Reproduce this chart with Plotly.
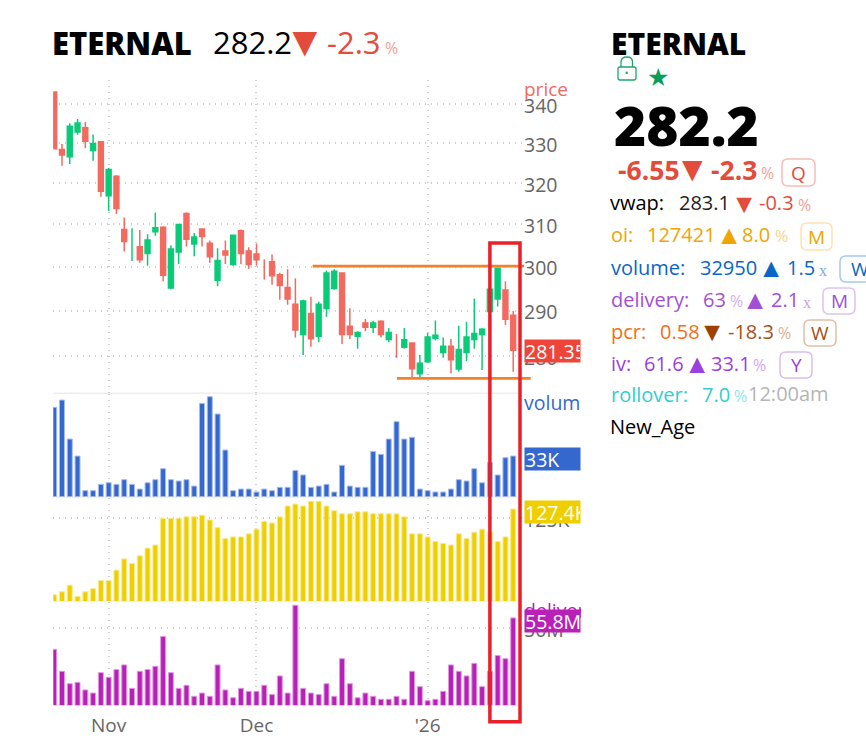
import math
import plotly.graph_objects as go
from plotly.subplots import make_subplots

W, H = 866, 740
FONT = 'Open Sans'

dates = ['2025-10-23', '2025-10-24', '2025-10-27', '2025-10-28', '2025-10-29', '2025-10-30', '2025-10-31',
         '2025-11-03', '2025-11-04', '2025-11-06', '2025-11-07', '2025-11-10', '2025-11-11', '2025-11-12',
         '2025-11-13', '2025-11-14', '2025-11-17', '2025-11-18', '2025-11-19', '2025-11-20', '2025-11-21',
         '2025-11-24', '2025-11-25', '2025-11-26', '2025-11-27', '2025-11-28',
         '2025-12-01', '2025-12-02', '2025-12-03', '2025-12-04', '2025-12-05', '2025-12-08', '2025-12-09',
         '2025-12-10', '2025-12-11', '2025-12-12', '2025-12-15', '2025-12-16', '2025-12-17', '2025-12-18',
         '2025-12-19', '2025-12-22', '2025-12-23', '2025-12-24', '2025-12-26', '2025-12-29', '2025-12-30',
         '2025-12-31', '2026-01-01', '2026-01-02', '2026-01-05', '2026-01-06', '2026-01-07', '2026-01-08',
         '2026-01-09', '2026-01-12', '2026-01-13', '2026-01-14', '2026-01-16', '2026-01-19']

opens = [343.1, 328.25, 326.7, 333, 333.8, 328.25, 330.2, 317, 321.5, 308.6,
         304.6, 304.5, 303.2, 308.3, 309.1, 295.2, 303.5, 312.4, 305.4, 308.7,
         305.3, 297, 303.5, 300.6, 308.3, 303.5, 302.8, 299.5, 301, 298,
         295.1, 291.3, 284.8, 289.2, 284.4, 290.6, 295.1, 298.4, 286.4, 284.4,
         287.1, 286.4, 287.5, 283.7, 282.5, 282, 282.7, 276.3, 278.9, 284,
         280.9, 282, 277.3, 280.9, 283.7, 284.8, 289.9, 292.7, 294.5, 288.8]
highs = [343.1, 329.75, 335.1, 336.2, 335.4, 332.2, 330.2, 323.7, 321.9, 311.6,
         309, 308.6, 307.6, 312.8, 309.4, 305, 309.8, 312.8, 307.9, 308.7,
         306.1, 304.3, 306.1, 307.2, 308.7, 304.5, 305.4, 301.7, 302.8, 298.6,
         299.4, 297.3, 292.4, 293.1, 292, 299.1, 299.4, 298.4, 290.5, 285.4,
         288.1, 287.7, 287.8, 286.1, 284.8, 286.1, 282.7, 280.2, 285, 287.8,
         284, 283.7, 286.6, 287.5, 292.7, 286.1, 294.7, 299.5, 296.6, 289.9]
lows = [328.7, 324.3, 324.7, 332.1, 328.7, 325.5, 316.6, 313.1, 312.4, 303.5,
        301.3, 300.9, 300.2, 307.2, 296.6, 294.8, 300.6, 304.7, 302.4, 304.7,
        300.9, 295.5, 300.6, 300.2, 300.6, 299.5, 300.2, 297, 295.8, 292.4,
        291.3, 284, 280.2, 282, 283, 288.6, 294.7, 282.6, 283.7, 281.6,
        285.4, 285, 284, 283, 279.6, 281.6, 275.3, 275.3, 278.6, 283.4,
        279.6, 276.3, 276.6, 278.9, 281.6, 277, 289.9, 290.9, 286.8, 276.6]
closes = [328.7, 327.1, 334.2, 335, 330.6, 329.75, 318.1, 323.2, 313.9, 306,
          304.8, 301.7, 306.1, 309, 298.1, 304, 309.8, 306.5, 306.8, 307.2,
          302.4, 301.3, 302.8, 307.2, 303.2, 300.6, 301.7, 299.3, 298, 295.8,
          292.7, 285.8, 292, 283.9, 291.3, 298.4, 298.8, 284.8, 284.8, 285,
          286.4, 287.1, 284.8, 285, 282.3, 283.4, 277.4, 278.3, 284, 284.4,
          282, 279.3, 281.3, 284, 284.8, 285.7, 294.7, 299.5, 288.2, 281.35]

volume = [72.4, 78.3, 46.7, 32.9, 4.9, 4.9, 10, 11.3, 10, 13.8,
          10, 6.2, 11.3, 13.8, 22.7, 13.8, 12.7, 13.8, 8.6, 75.6,
          81, 67, 37.8, 4.9, 6.2, 6.2, 3.8, 6.2, 4.9, 7.6,
          7.6, 21.3, 17.6, 7.6, 8.6, 10, 3.8, 25.4, 8.6, 7.6,
          7.6, 36.7, 34.3, 46.7, 60.8, 46.7, 48.1, 6.2, 4.9, 3.8,
          3.8, 6.2, 13.8, 12.7, 22.7, 11.3, 27.8, 17.6, 31.6, 32.95]
oi = [105.2, 106, 107.7, 104.8, 106, 106.8, 108.9, 108.9, 111.6, 114.5,
      113.3, 115.3, 117.3, 118.1, 125, 125, 125, 125.4, 125.4, 125.8,
      124.6, 122.6, 119.8, 120.2, 120.2, 121, 122.2, 124.2, 123.8, 125.4,
      128.2, 128.7, 128.2, 129.4, 129.4, 128.2, 127, 126.2, 126.2, 126.7,
      126.7, 126.2, 126.2, 126.2, 126.2, 125.4, 121, 121, 120.2, 119,
      118.5, 118.1, 121, 119.8, 121.4, 122.2, 121.4, 119, 120.2, 127.42]
delivery = [37.6, 24.9, 17.7, 18.5, 14.1, 12.3, 24.1, 21.4, 25.9, 28.6,
            15, 24.9, 25.9, 27.8, 45, 24.1, 15, 16.8, 10.4, 12.3,
            10.4, 28.6, 14.1, 9.6, 15, 13.3, 13.3, 16.8, 11.4, 22.2,
            12.3, 63.1, 15, 12.3, 11.4, 17.7, 10.4, 32.2, 17.7, 9.6,
            12.3, 10.4, 8.7, 8.7, 10.4, 8.7, 24.9, 16, 7.9, 8.7,
            13.3, 28.6, 24.9, 22.2, 29.5, 16, 24.9, 34, 32.2, 55.8]

month_dates = ['2025-11-03', '2025-12-01', '2026-01-01']
month_labels = ['Nov', 'Dec', "'26"]
price_ticks = [280, 290, 300, 310, 320, 330, 340]
resistance = 300.1
support = 275.2

RED = '#e34b3a'
SALMON = '#f0a096'
SERIF = 'Liberation Serif'
UP = '#0acb78'
DOWN = '#f26a60'


def px(x):
    return x / W


def py(y):
    return 1 - y / H


def domain(top, bottom):
    return [py(bottom), py(top)]


def label(x, y, text, color='#000000', size=20, weight=None, family=FONT, **kw):
    fig.add_annotation(xref='paper', yref='paper', x=px(x), y=py(y), text=text,
                       xanchor='left', yanchor='middle', showarrow=False, borderpad=0,
                       font=dict(family=family, color=color, size=size, weight=weight), **kw)


def tag(yref, value, text, color, shift):
    fig.add_annotation(xref='paper', yref=yref, x=px(524), y=value, text=text, width=55, height=22,
                       align='left', xanchor='left', yanchor='middle', yshift=shift,
                       showarrow=False, borderpad=0, bgcolor=color,
                       font=dict(family=FONT, color='white', size=19.5))


def rounded(x0, y0, x1, y1, r=6):
    return (f'M {px(x0 + r)} {py(y0)} L {px(x1 - r)} {py(y0)} Q {px(x1)} {py(y0)} {px(x1)} {py(y0 + r)} '
            f'L {px(x1)} {py(y1 - r)} Q {px(x1)} {py(y1)} {px(x1 - r)} {py(y1)} '
            f'L {px(x0 + r)} {py(y1)} Q {px(x0)} {py(y1)} {px(x0)} {py(y1 - r)} '
            f'L {px(x0)} {py(y0 + r)} Q {px(x0)} {py(y0)} {px(x0 + r)} {py(y0)} Z')


def badge(x0, y0, x1, y1, text, border, color):
    fig.add_shape(type='path', xref='paper', yref='paper', path=rounded(x0, y0, x1, y1),
                  line=dict(color=border, width=1.5))
    fig.add_annotation(xref='paper', yref='paper', x=px((x0 + x1) / 2), y=py((y0 + y1) / 2), text=text,
                       xanchor='center', yanchor='middle', showarrow=False, borderpad=0,
                       font=dict(family=FONT, color=color, size=19))


fig = make_subplots(rows=4, cols=1, shared_xaxes=True)

# wicks as tickless ohlc, bodies as candles without wicks, days with no real body stay a plain line
fig.add_trace(go.Ohlc(x=dates, open=opens, high=highs, low=lows, close=closes, tickwidth=0,
                      increasing=dict(line=dict(color=UP, width=1.5)),
                      decreasing=dict(line=dict(color=DOWN, width=1.5))), row=1, col=1)
body_top = [max(o, c) if abs(o - c) > 0.3 else None for o, c in zip(opens, closes)]
body_bottom = [min(o, c) if abs(o - c) > 0.3 else None for o, c in zip(opens, closes)]
fig.add_trace(go.Candlestick(x=dates, open=opens, high=body_top, low=body_bottom, close=closes,
                             increasing=dict(line=dict(color=UP, width=2.6), fillcolor=UP),
                             decreasing=dict(line=dict(color=DOWN, width=2.6), fillcolor=DOWN),
                             whiskerwidth=0), row=1, col=1)
fig.add_trace(go.Bar(x=dates, y=volume, marker=dict(color='#3468cf', line=dict(color='#a6bcee', width=1))),
              row=2, col=1)
fig.add_trace(go.Bar(x=dates, y=oi, marker=dict(color='#f0cf00', line=dict(color='#f9ea90', width=1))),
              row=3, col=1)
fig.add_trace(go.Bar(x=dates, y=delivery, marker=dict(color='#b820b8', line=dict(color='#e09ae0', width=1))),
              row=4, col=1)

x_range = [-0.116, 60.13]
x_dom = [px(53.3), px(522)]
for i, name in enumerate(['xaxis', 'xaxis2', 'xaxis3', 'xaxis4']):
    fig.layout[name].update(type='category', categoryorder='array', categoryarray=dates, range=x_range,
                            domain=x_dom, showgrid=True, gridcolor='#cfcfcf', griddash='1px,5px', gridwidth=1.5,
                            tickmode='array', tickvals=month_dates, ticktext=month_labels, showline=False,
                            zeroline=False, ticks='', showticklabels=i == 3, ticklabelstandoff=7,
                            tickfont=dict(family=FONT, size=19, color='#666666'))
fig.layout.xaxis.rangeslider.visible = False

y_common = dict(side='right', showline=False, zeroline=False, ticks='', showgrid=True, gridcolor='#cfcfcf',
                griddash='1px,5px', gridwidth=1.5, tickmode='array',
                tickfont=dict(family=FONT, size=19.5, color='#666666'), ticklabelstandoff=1, ticklabelshift=2)
fig.layout.yaxis.update(type='log', domain=domain(80, 393), range=[2.43476, 2.53965],
                        tickvals=price_ticks, ticktext=[str(t) for t in price_ticks], **y_common)
fig.layout.yaxis2.update(domain=domain(394, 496.7), range=[0, 83.2], tickvals=[], **y_common)
fig.layout.yaxis3.update(domain=domain(497.5, 601), range=[103.6, 130.4], tickvals=[125], ticktext=['125K'], **y_common)
fig.layout.yaxis4.update(domain=domain(602, 705.3), range=[5.2, 65], tickvals=[50], ticktext=['50M'], **y_common)

fig.update_layout(width=W, height=H, margin=dict(l=0, r=0, t=0, b=0), showlegend=False,
                  plot_bgcolor='white', paper_bgcolor='white', bargap=0.36, boxmode='overlay',
                  font=dict(family=FONT), hovermode=False)

# separators under the panels
for y, c in [(393.3, '#eeeeee'), (497, '#f0f0f0'), (601.3, '#f0f0f0')]:
    fig.add_shape(type='line', xref='paper', yref='paper', x0=px(53.3), x1=px(522), y0=py(y), y1=py(y),
                  line=dict(color=c, width=1.5), layer='below')

# levels and the frame round the last bars
fig.add_shape(type='line', xref='paper', yref='y', x0=px(312.7), x1=px(524), y0=resistance, y1=resistance,
              line=dict(color='#f5802a', width=2.6))
fig.add_shape(type='line', xref='paper', yref='y', x0=px(397), x1=px(530.7), y0=support, y1=support,
              line=dict(color='#f5802a', width=2.6))
fig.add_shape(type='rect', xref='paper', yref='paper', x0=px(489.9), x1=px(520), y0=py(243), y1=py(721.7),
              line=dict(color='#e8202a', width=3.5))

# panel names and value tags
label(523, 88.5, 'price', '#f26a60', 19)
label(523, 402, 'volume', '#3468cf', 19.5, width=57, align='left')
label(523, 507, 'oi', '#f0cf00', 19)
label(523, 610, 'delivery', '#b820b8', 19.5, width=57, align='left')
tag('y', math.log10(closes[-1]), '281.35', '#ef4438', -1)
tag('y2', volume[-1], '33K', '#3468cf', -3)
tag('y3', oi[-1], '127.4K', '#f0cf00', -3)
tag('y4', delivery[-1], '55.8M', '#b820b8', -3)

# header over the chart
label(51, 42.5, 'ETERNAL', '#000000', 31, 800)
label(212, 42, '282.2', '#000000', 31)
label(282.6, 39.5, '▼', RED, 42)
label(326, 42, '-2.3', RED, 31)
label(384, 48, '%', SALMON, 16)

# side panel
label(609.5, 43.5, 'ETERNAL', '#000000', 30, 800)
fig.add_shape(type='path', xref='paper', yref='paper', path=rounded(618, 67, 636, 80, 2),
              line=dict(color='#1aa86a', width=1.3))
fig.add_shape(type='path', xref='paper', yref='paper',
              path=f'M {px(621)} {py(67)} L {px(621)} {py(62)} Q {px(621)} {py(57)} {px(627)} {py(57)} '
                   f'Q {px(632.5)} {py(57)} {px(632.5)} {py(62)} L {px(632.5)} {py(67)}',
              line=dict(color='#1aa86a', width=1.3))
fig.add_shape(type='circle', xref='paper', yref='paper', x0=px(625.5), x1=px(628), y0=py(71.5), y1=py(74),
              fillcolor='#1aa86a', line=dict(width=0))
label(646, 76, '★', '#0a9d58', 25)
label(613, 125, '282.2', '#000000', 55, 800)

label(617, 170, '-6.55', RED, 26.5, 700)
label(674.2, 167, '▼', RED, 35)
label(710, 170, '-2.3', RED, 26.5, 700)
label(760, 173, '%', SALMON, 16)
badge(782, 159, 815, 186, 'Q', '#f7bdb5', RED)

label(609, 203, 'vwap:')
label(678, 203, '283.1', '#222222')
label(730.4, 203, '▼', RED, 26.5)
label(758, 203, '-0.3', RED)
label(797, 205, '%', SALMON, 16)

label(610, 234, 'oi:', '#f0a500')
label(646, 234, '127421', '#f0a500')
label(715.4, 234, '▲', '#f0a500', 26.5)
label(741, 234, '8.0', '#f0a500')
label(774, 236, '%', '#f7d48a', 16)
badge(801, 223, 832, 250, 'M', '#fde2b0', '#f0a500')

label(610, 267, 'volume:', '#0a66c8')
label(699, 267, '32950', '#0a66c8')
label(757.4, 267, '▲', '#0a66c8', 26.5)
label(786, 267, '1.5', '#0a66c8')
label(818, 270, 'x', '#7fa8dc', 16, family=SERIF)
badge(840, 256, 880, 282, 'W', '#a5c8ee', '#0a66c8')

label(610, 299, 'delivery:', '#a24fd6')
label(702, 299, '63', '#a24fd6')
label(729, 301, '%', '#d3aeea', 16)
label(741.4, 299, '▲', '#a24fd6', 26.5)
label(770, 299, '2.1', '#a24fd6')
label(802, 302, 'x', '#c9a4e6', 16, family=SERIF)
badge(823, 288, 855, 314, 'M', '#dcc3f0', '#a24fd6')

label(610, 331, 'pcr:', '#f07020')
label(659, 331, '0.58', '#f07020')
label(698.4, 331, '▼', '#a04000', 26.5)
label(727, 331, '-18.3', '#a8501a')
label(777, 333, '%', '#dcae90', 16)
badge(804, 320, 836, 346, 'W', '#e0bfa8', '#a8501a')

label(610, 363, 'iv:', '#9c3fe0')
label(643, 363, '61.6', '#9c3fe0')
label(683.4, 363, '▲', '#9c3fe0', 26.5)
label(710, 363, '33.1', '#9c3fe0')
label(752, 365, '%', '#cfa6f0', 16)
badge(780, 352, 812, 378, 'Y', '#d8bdf4', '#9c3fe0')

label(610, 394, 'rollover:', '#2fcfcf')
label(701, 394, '7.0', '#2fcfcf')
label(733, 396, '%', '#8ee6e6', 16)
label(747, 393, '12:00am', '#b5b5b5')
label(609, 426, 'New_Age')

fig.write_html("out.html", config={'displayModeBar': False}, post_script="document.body.style.margin='0'")
